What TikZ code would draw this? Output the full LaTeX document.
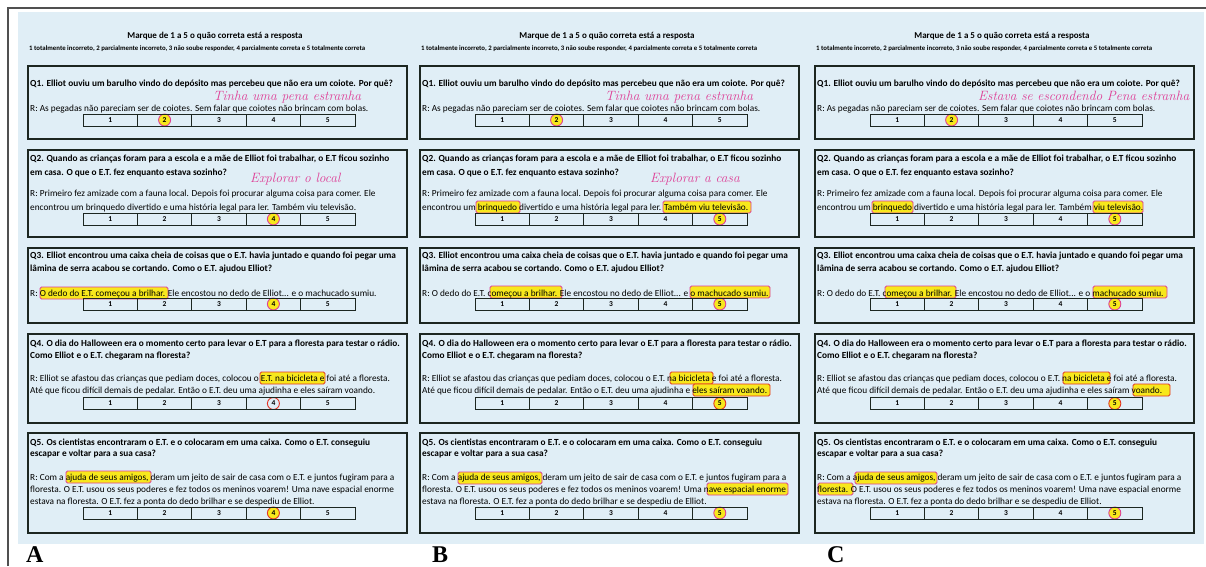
\documentclass[tikz,border=0pt]{standalone}
\usepackage{fontspec}
\setmainfont{Carlito}
\newfontfamily\handfont{Latin Modern Roman}
\newfontfamily\tagfont{Liberation Serif}
\usetikzlibrary{positioning}

\definecolor{paper}{RGB}{224,238,246}
\definecolor{ink}{RGB}{28,38,32}
\definecolor{pen}{RGB}{222,62,150}
\definecolor{redpen}{RGB}{226,52,38}
\definecolor{marker}{RGB}{247,232,28}
\definecolor{rulegray}{RGB}{80,80,80}

\begin{document}
\begin{tikzpicture}[
    x=1pt, y=-1pt,
    qbox/.style={draw=ink, line width=1.8pt},
    cell/.style={rectangle, draw=ink, line width=1pt, minimum width=54.4pt, minimum height=12pt, inner sep=0pt, font=\fontsize{7.5}{7.5}\selectfont\bfseries},
    title/.style={inner sep=0pt, font=\fontsize{9}{9}\selectfont\bfseries},
    legend/.style={anchor=base west, inner sep=0pt, font=\fontsize{6.8}{7}\selectfont\bfseries},
    qtext/.style={anchor=base west, inner sep=0pt, font=\fontsize{9.3}{9.3}\selectfont\bfseries},
    atext/.style={anchor=base west, inner sep=0pt, font=\fontsize{9.3}{9.3}\selectfont},
    hand/.style={anchor=base west, inner sep=0pt, text=pen, font=\handfont\itshape\fontsize{13.5}{13.5}\selectfont},
    hl/.style={fill=marker, draw=pen, line width=0.8pt, rounded corners=1.5pt},
    hlred/.style={hl, draw=redpen},
    pick/.style={circle, fill=marker, draw=pen, line width=0.9pt, minimum size=12pt, inner sep=0pt},
    pickred/.style={pick, draw=redpen},
    tag/.style={anchor=base west, inner sep=0pt, font=\tagfont\bfseries\fontsize{24}{24}\selectfont},
]

\useasboundingbox (0,0) rectangle (1206,566);

% Scanned paper and frame
\fill[paper] (18,12) rectangle (1204,544);
\draw[rulegray, line width=1.2pt] (8,566) -- (8,8) -- (1206,8);

% Marks on sheet A
\draw[hl] (40,287) rectangle (168,299);
\draw[hlred] (260,372) rectangle (325,384);
\draw[hl] (66,471) rectangle (151,483);
\node[pick] (pA1) at (164.6,120) {};
\node[pick] (pA2) at (273.4,219) {};
\node[pick] (pA3) at (273.4,304) {};
\node[pickred, fill=none] (pA4) at (273.4,403.5) {};
\node[pickred] (pA5) at (273.4,513) {};

% Marks on sheet B
\begin{scope}[xshift=392pt]
  \draw[hl] (84,201) rectangle (128,213);
  \draw[hl] (271,201) rectangle (359,213);
  \draw[hl] (98,286) rectangle (170,298);
  \draw[hl] (298,286) rectangle (378,298);
  \draw[hlred] (278,372) rectangle (321,384);
  \draw[hlred] (301,384) rectangle (378,396);
  \draw[hl] (66,472) rectangle (150,484);
  \draw[hl] (315,483) rectangle (396,495);
  \node[pick] (pB1) at (164.6,120) {};
  \node[pick] (pB2) at (327.8,219) {};
  \node[pick] (pB3) at (327.8,304) {};
  \node[pickred] (pB4) at (327.8,403.5) {};
  \node[pick] (pB5) at (327.8,513) {};
\end{scope}

% Marks on sheet C
\begin{scope}[xshift=787pt]
  \draw[hl] (85,201) rectangle (126,213);
  \draw[hl] (306,201) rectangle (356,213);
  \draw[hl] (98,286) rectangle (169,298);
  \draw[hl] (306,286) rectangle (380,298);
  \draw[hlred] (276,372) rectangle (323,384);
  \draw[hlred] (346,384) rectangle (383,396);
  \draw[hl] (68,472) rectangle (150,484);
  \draw[hl] (31,483) rectangle (66,495);
  \node[pick] (pC1) at (164.6,120) {};
  \node[pick] (pC2) at (327.8,219) {};
  \node[pick] (pC3) at (327.8,304) {};
  \node[pickred] (pC4) at (327.8,403.5) {};
  \node[pick] (pC5) at (327.8,513) {};
\end{scope}

% The three printed sheets
\foreach \p/\dx in {A/0, B/392, C/787} {
  \begin{scope}[xshift=\dx pt]
    \node[title] (ti\p) at (215,36) {Marque de 1 a 5 o quão correta está a resposta};
    \node[legend] (le\p) at (29,50) {1 totalmente incorreto, 2 parcialmente incorreto, 3 não soube responder, 4 parcialmente correta e 5 totalmente correta};

    % Q1
    \draw[qbox] (28,66) rectangle (407,139);
    \node[qtext] (q1\p) at (30,86) {Q1. Elliot ouviu um barulho vindo do depósito mas percebeu que não era um coiote. Por quê?};
    \node[atext] (r1\p) at (30,111) {R: As pegadas não pareciam ser de coiotes. Sem falar que coiotes não brincam com bolas.};

    % Q2
    \draw[qbox] (28,150) rectangle (407,237);
    \node[qtext] (q2\p) at (30,161) {Q2. Quando as crianças foram para a escola e a mãe de Elliot foi trabalhar, o E.T ficou sozinho};
    \node[qtext] (q2b\p) at (30,175) {em casa. O que o E.T. fez enquanto estava sozinho?};
    \node[atext] (r2\p) at (30,196) {R: Primeiro fez amizade com a fauna local. Depois foi procurar alguma coisa para comer. Ele};
    \node[atext] (r2b\p) at (30,210) {encontrou um brinquedo divertido e uma história legal para ler. Também viu televisão.};

    % Q3
    \draw[qbox] (28,248) rectangle (407,323);
    \node[qtext] (q3\p) at (30,258) {Q3. Elliot encontrou uma caixa cheia de coisas que o E.T. havia juntado e quando foi pegar uma};
    \node[qtext] (q3b\p) at (30,271) {lâmina de serra acabou se cortando. Como o E.T. ajudou Elliot?};
    \node[atext] (r3\p) at (30,296) {R: O dedo do E.T. começou a brilhar. Ele encostou no dedo de Elliot... e o machucado sumiu.};

    % Q4
    \draw[qbox] (28,334) rectangle (407,423);
    \node[qtext] (q4\p) at (30,346) {Q4. O dia do Halloween era o momento certo para levar o E.T para a floresta para testar o rádio.};
    \node[qtext] (q4b\p) at (30,358) {Como Elliot e o E.T. chegaram na floresta?};
    \node[atext] (r4\p) at (30,381) {R: Elliot se afastou das crianças que pediam doces, colocou o E.T. na bicicleta e foi até a floresta.};
    \node[atext] (r4b\p) at (30,393) {Até que ficou difícil demais de pedalar. Então o E.T. deu uma ajudinha e eles saíram voando.};

    % Q5
    \draw[qbox] (28,433) rectangle (407,533);
    \node[qtext] (q5\p) at (30,445) {Q5. Os cientistas encontraram o E.T. e o colocaram em uma caixa. Como o E.T. conseguiu};
    \node[qtext] (q5b\p) at (30,456) {escapar e voltar para a sua casa?};
    \node[atext] (r5\p) at (30,480) {R: Com a ajuda de seus amigos, deram um jeito de sair de casa com o E.T. e juntos fugiram para a};
    \node[atext] (r5b\p) at (30,492) {floresta. O E.T. usou os seus poderes e fez todos os meninos voarem! Uma nave espacial enorme};
    \node[atext] (r5c\p) at (30,504) {estava na floresta. O E.T. fez a ponta do dedo brilhar e se despediu de Elliot.};

    % Rating rows 1 to 5
    \foreach \q/\ry in {1/120, 2/219, 3/304, 4/403.5, 5/513}
      \foreach \k in {1,...,5}
        \node[cell] (c\p\q\k) at ({83+(\k-0.5)*54.4}, \ry) {\k};
  \end{scope}
}

% Handwritten answers
\node[hand] (hA1) at (213,100) {Tinha uma pena estranha};
\node[hand] (hA2) at (250,182) {Explorar o local};
\node[hand] (hB1) at (605,100) {Tinha uma pena estranha};
\node[hand] (hB2) at (650,182) {Explorar a casa};
\node[hand] (hC1) at (978,100) {Estava se escondendo Pena estranha};

% Panel letters
\node[tag] (tA) at (26,562) {A};
\node[tag] (tB) at (432,562) {B};
\node[tag] (tC) at (827,562) {C};

\end{tikzpicture}
\end{document}
